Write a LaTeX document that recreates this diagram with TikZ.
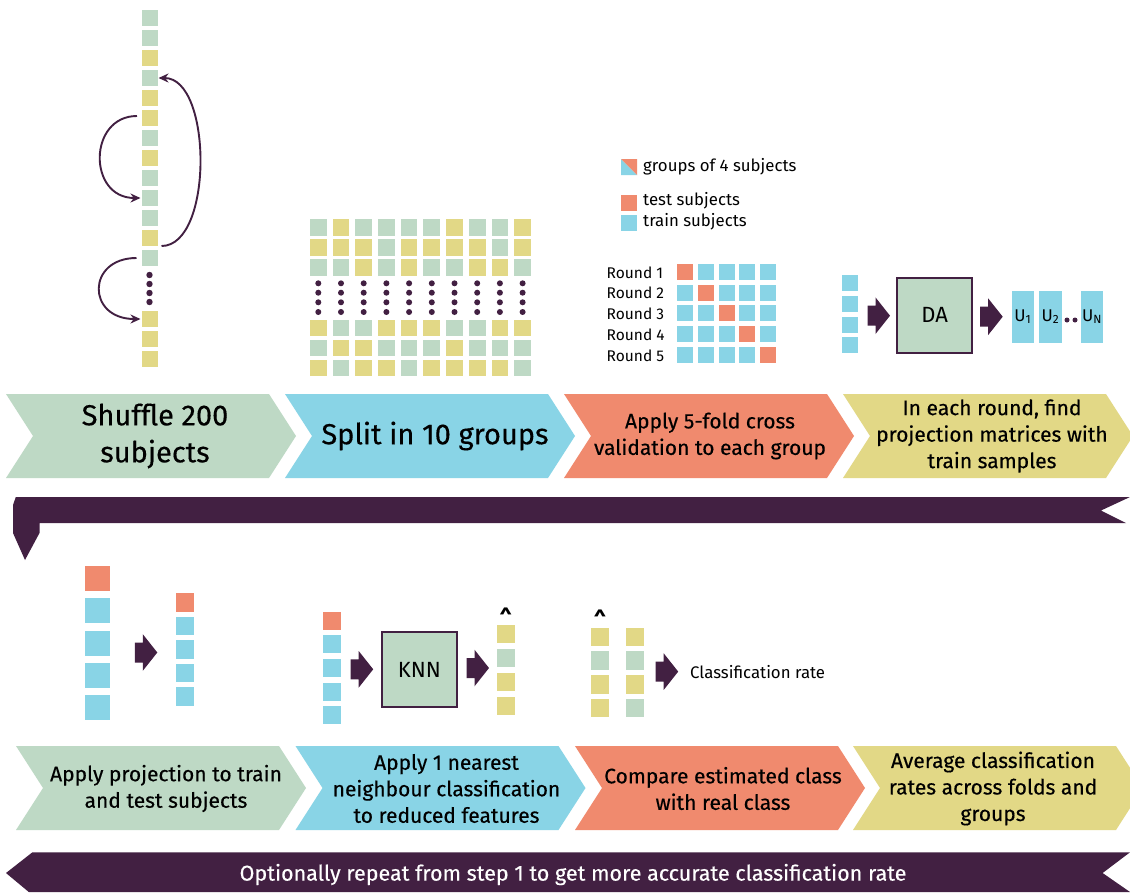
\documentclass[tikz,border=0pt]{standalone}
\usepackage{fontspec}
\setmainfont{Fira Sans}
\newfontfamily\stepfont{Fira Sans}[FakeBold=0.35]
\usetikzlibrary{arrows.meta}

\definecolor{cgreen}{RGB}{190,217,197}
\definecolor{cyellow}{RGB}{226,216,134}
\definecolor{cblue}{RGB}{137,212,230}
\definecolor{csalmon}{RGB}{240,138,110}
\definecolor{plum}{RGB}{66,32,66}

\newcommand\setfs[2]{\fontsize{#1}{#2}\selectfont}
% one chevron of the process band: left x, top y, colour
\newcommand\chevronshape[3]{\fill[#3] (#1,#2) -- ++(263,0) -- ++(27,42) -- ++(-27,42) -- ++(-263,0) -- ++(27,-42) -- cycle;}

\tikzset{
  sq/.style={minimum size=16pt, inner sep=0pt, outer sep=0pt},
  grn/.style={fill=cgreen}, ylw/.style={fill=cyellow},
  blu/.style={fill=cblue}, sal/.style={fill=csalmon},
  dotc/.style={circle, fill=plum, minimum size=6.4pt, inner sep=0pt},
  curvearrow/.style={draw=plum, line width=1.9pt, -{Stealth[length=10pt,width=9pt]}},
  methodbox/.style={draw=plum, line width=2pt, fill=cgreen, minimum size=75pt, inner sep=0pt, font=\setfs{22}{26}},
  bigstep/.style={align=center, font=\stepfont\setfs{29}{37}},
  midstep/.style={align=center, font=\stepfont\setfs{21}{26.5}},
  smalltext/.style={font=\setfs{16.8}{19}, anchor=west, inner sep=0pt},
  hat/.style={font=\bfseries\setfs{22}{22}, inner sep=0pt},
  fatarrow/.pic={\fill[plum] (0,0) -- (-14.5,-18.3) -- (-14.5,-10) -- (-22.5,-10) -- (-22.5,10) -- (-14.5,10) -- (-14.5,18.3) -- cycle;}
}

\begin{document}
\begin{tikzpicture}[x=1pt,y=-1pt]
\useasboundingbox (0,0) rectangle (1130,892);
\fill[white] (0,0) rectangle (1130,892);

% ---------- shuffled column of 200 subjects ----------
\foreach \c [count=\k from 0] in {grn,grn,ylw,grn,ylw,ylw,grn,ylw,grn,grn,grn,ylw,grn}
  \node[sq,\c] (c\k) at (149.5,{18+20*\k}) {};
\node[sq,ylw] (c13) at (149.5,319) {};
\node[sq,ylw] (c14) at (149.5,339) {};
\node[sq,ylw] (c15) at (149.5,359) {};
\foreach \y [count=\k] in {275,284,293,302}
  \node[dotc] (cd\k) at (149.5,\y) {};

\draw[curvearrow] ([xshift=-4.5pt,yshift=2pt]c5.west) .. controls +(-49,0) and +(-53,0) .. ([xshift=-1pt]c9.west);
\draw[curvearrow] ([xshift=4pt,yshift=-8pt]c11.east) .. controls +(52,0) and +(54,0) .. ([xshift=1pt]c3.east);
\draw[curvearrow] ([xshift=-5pt]c12.west) .. controls +(-50,0) and +(-54,0) .. ([xshift=-1pt]c13.west);

% ---------- ten groups ----------
\foreach \row/\y/\r in {
  {grn,ylw,grn,grn,grn,grn,ylw,grn,grn,ylw}/227.7/1,
  {ylw,ylw,ylw,grn,ylw,ylw,ylw,ylw,grn,ylw}/247.7/2,
  {grn,grn,ylw,grn,ylw,grn,grn,ylw,ylw,grn}/267.7/3,
  {ylw,grn,grn,ylw,ylw,ylw,grn,grn,ylw,ylw}/328/4,
  {grn,ylw,ylw,grn,grn,grn,ylw,grn,grn,grn}/348/5,
  {ylw,grn,ylw,ylw,grn,ylw,ylw,ylw,ylw,grn}/368/6}{
  \foreach \c [count=\i from 0] in \row
    \node[sq,minimum size=16.7pt,\c] (g\r-\i) at ({318.3+22.7*\i},\y) {};
}
\foreach \i in {0,...,9}
  \foreach \y [count=\k] in {283.3,292.7,302.3,312}
    \node[dotc,minimum size=6pt] (gd\i-\k) at ({318.3+22.7*\i},\y) {};

% ---------- legend ----------
\fill[cblue] (621,159) -- (621,175) -- (637,175) -- cycle;
\fill[csalmon] (621,159) -- (637,159) -- (637,175) -- cycle;
\node[smalltext] (lgroups) at (643,167) {groups of 4 subjects};
\node[sq,sal] (ltest) at (629,202.5) {};
\node[smalltext] (ltesttxt) at (643,201) {test subjects};
\node[sq,blu] (ltrain) at (629,222.5) {};
\node[smalltext] (ltraintxt) at (643,222) {train subjects};

% ---------- five rounds of cross validation ----------
\foreach \r in {0,...,4}{
  \node[smalltext,font=\setfs{15.5}{17}] (rl\r) at (606.5,{272.5+20.7*\r}) {Round \the\numexpr\r+1\relax};
  \foreach \j in {0,...,4}{
    \ifnum\r=\j \def\cc{sal}\else\def\cc{blu}\fi
    \node[sq,\cc] (r\r-\j) at ({685+20.75*\j},{272+20.7*\r}) {};
  }
}

% ---------- discriminant analysis ----------
\foreach \k in {0,...,3}
  \node[sq,blu] (da\k) at (849.5,{283+20.75*\k}) {};
\pic at (890,315.7) {fatarrow};
\node[methodbox] (DA) at (934.7,315.3) {DA};
\pic at (1002.7,316.7) {fatarrow};
\node[blu,minimum width=22.3pt,minimum height=52pt,inner sep=0pt,font=\setfs{17}{18}] (U1) at (1022.9,316.7) {U\textsubscript{1}};
\node[blu,minimum width=22.3pt,minimum height=52pt,inner sep=0pt,font=\setfs{17}{18}] (U2) at (1050.5,316.7) {U\textsubscript{2}};
\node[dotc,minimum size=5pt] (ud1) at (1067,320) {};
\node[dotc,minimum size=5pt] (ud2) at (1075,320) {};
\node[blu,minimum width=22.3pt,minimum height=52pt,inner sep=0pt,font=\setfs{17}{18}] (UN) at (1092,316.7) {U\textsubscript{N}};

% ---------- first process band ----------
\chevronshape{6}{394}{cgreen}
\chevronshape{285}{394}{cblue}
\chevronshape{564}{394}{csalmon}
\chevronshape{843}{394}{cyellow}
\node[bigstep] (s1) at (155,436) {Shuffle 200\\subjects};
\node[bigstep] (s2) at (435,436) {Split in 10 groups};
\node[midstep] (s3) at (710,436) {Apply 5-fold cross\\validation to each group};
\node[midstep] (s4) at (992,436) {In each round, find\\projection matrices with\\train samples};

% ---------- connecting banner ----------
\fill[plum] (15.8,497) -- (1130,497) -- (1101,510.5) -- (1126,523) -- (39.5,523)
  -- (39.5,533) -- (25,560) -- (13,533) -- (13,505) -- cycle;

% ---------- projection ----------
\foreach \c [count=\k from 0] in {sal,blu,blu,blu,blu}
  \node[sq,minimum size=25pt,\c] (p\k) at (97.8,{578.5+32.25*\k}) {};
\pic at (157.3,652.5) {fatarrow};
\foreach \c [count=\k from 0] in {sal,blu,blu,blu,blu}
  \node[sq,minimum size=18.3pt,\c] (q\k) at (185.2,{602.5+23.5*\k}) {};

% ---------- nearest neighbour ----------
\foreach \c [count=\k from 0] in {sal,blu,blu,blu,blu}
  \node[sq,minimum size=18pt,\c] (k\k) at (332,{620.6+23.7*\k}) {};
\pic at (373.2,669.3) {fatarrow};
\node[methodbox] (KNN) at (419.3,669.5) {KNN};
\pic at (489,668) {fatarrow};
\foreach \c [count=\k from 0] in {ylw,grn,ylw,ylw}
  \node[sq,minimum size=18pt,\c] (o\k) at (505.7,{634.2+23.9*\k}) {};
\node[hat] (hat1) at (505.7,617) {\textasciicircum};

% ---------- comparison ----------
\foreach \c [count=\k from 0] in {ylw,grn,ylw,ylw}
  \node[sq,minimum size=18.5pt,\c] (ea\k) at (600,{637+23.7*\k}) {};
\foreach \c [count=\k from 0] in {ylw,grn,ylw,grn}
  \node[sq,minimum size=18.5pt,\c] (eb\k) at (635,{637+23.7*\k}) {};
\node[hat] (hat2) at (600,619.5) {\textasciicircum};
\pic at (678.2,671.6) {fatarrow};
\node[smalltext] (crate) at (690,671.6) {Classification rate};

% ---------- second process band ----------
\chevronshape{16}{746}{cgreen}
\chevronshape{295.5}{746}{cblue}
\chevronshape{575}{746}{csalmon}
\chevronshape{853}{746}{cyellow}
\node[midstep] (t1) at (166,788.5) {Apply projection to train\\and test subjects};
\node[midstep] (t2) at (446.5,788.5) {Apply 1 nearest\\neighbour classification\\to reduced features};
\node[midstep] (t3) at (723,788.5) {Compare estimated class\\with real class};
\node[midstep] (t4) at (993,788.5) {Average classification\\rates across folds and\\groups};

% ---------- closing banner ----------
\fill[plum] (32.4,852.3) -- (1130,852.3) -- (1102.6,873) -- (1130,892) -- (28.8,892) -- (6,873) -- cycle;
\node[font=\stepfont\setfs{21.5}{22}, text=white] (repeat) at (573,874.5) {Optionally repeat from step 1 to get more accurate classification rate};
\end{tikzpicture}
\end{document}
